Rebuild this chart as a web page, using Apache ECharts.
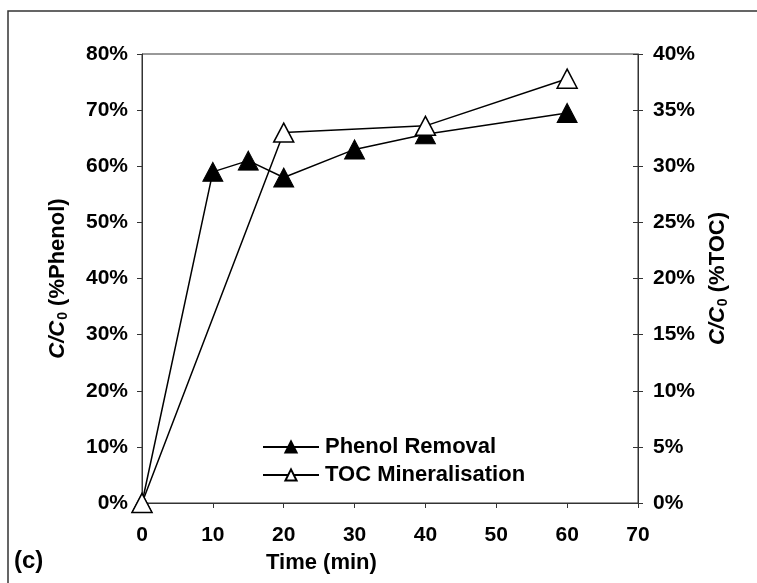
<!DOCTYPE html>
<html>
<head>
<meta charset="utf-8">
<script src="https://cdn.jsdelivr.net/npm/echarts@6/dist/echarts.min.js"></script>
<style>
  html, body { margin: 0; padding: 0; background: #fff; }
  #chart { width: 757px; height: 583px; }
</style>
</head>
<body>
<div id="chart"></div>
<script>
// Sampling times (min)
const times = [0, 10, 15, 20, 30, 40, 60];
const tocTimes = [0, 20, 40, 60];
// Phenol removal, % (left axis)
const phenolRemoval = [0, 59, 61, 58, 63, 65.7, 69.5];
// TOC mineralisation, % (right axis)
const tocMineralisation = [0, 33, 33.6, 37.8];

const FONT = '"Liberation Sans", Arial, sans-serif';
const AXIS_COLOR = '#333';

const chart = echarts.init(document.getElementById('chart'), null, { renderer: 'canvas' });

const labelStyle = { fontFamily: FONT, fontWeight: 'bold', fontSize: 21, color: '#000' };

function pairs(xs, ys) { return xs.map((x, i) => [x, ys[i]]); }

function axisNameRich() {
  return {
    c: { fontFamily: FONT, fontWeight: 'bold', fontStyle: 'italic', fontSize: 22, color: '#000' },
    s: { fontFamily: FONT, fontWeight: 'bold', fontSize: 14, color: '#000', padding: [10, 0, 0, 1] },
    n: { fontFamily: FONT, fontWeight: 'bold', fontSize: 22, color: '#000' }
  };
}

chart.setOption({
  backgroundColor: '#fff',
  animation: false,
  grid: {
    left: 142, right: 119, top: 54, bottom: 80,
    show: true, borderColor: AXIS_COLOR, borderWidth: 1, backgroundColor: 'transparent'
  },
  xAxis: {
    type: 'value', min: 0, max: 70, interval: 10,
    axisLine: { show: true, onZero: false, lineStyle: { color: AXIS_COLOR, width: 1 } },
    axisTick: { show: true, inside: false, length: 5, lineStyle: { color: AXIS_COLOR } },
    axisLabel: Object.assign({ margin: 22 }, labelStyle),
    splitLine: { show: false }
  },
  yAxis: [
    {
      type: 'value', position: 'left', min: 0, max: 80, interval: 10,
      axisLine: { show: true, lineStyle: { color: AXIS_COLOR, width: 1 } },
      axisTick: { show: true, inside: false, length: 5, lineStyle: { color: AXIS_COLOR } },
      axisLabel: Object.assign({ margin: 14, formatter: '{value}%' }, labelStyle),
      splitLine: { show: false },
      name: '{c|C/C}{s|0}{n| (%Phenol)}',
      nameLocation: 'middle', nameRotate: 90, nameGap: 72,
      nameTextStyle: { rich: axisNameRich() }
    },
    {
      type: 'value', position: 'right', min: 0, max: 40, interval: 5,
      axisLine: { show: true, lineStyle: { color: AXIS_COLOR, width: 1 } },
      axisTick: { show: true, inside: false, length: 5, lineStyle: { color: AXIS_COLOR } },
      axisLabel: Object.assign({ margin: 15, formatter: '{value}%' }, labelStyle),
      splitLine: { show: false },
      name: '{c|C/C}{s|0}{n| (%TOC)}',
      nameLocation: 'middle', nameRotate: 90, nameGap: 68,
      nameTextStyle: { rich: axisNameRich() }
    },
    {
      // inner half of the crossing ticks on the right axis
      type: 'value', position: 'right', min: 0, max: 40, interval: 5,
      axisLine: { show: false },
      axisTick: { show: true, inside: true, length: 5, lineStyle: { color: AXIS_COLOR } },
      axisLabel: { show: false },
      splitLine: { show: false }
    }
  ],
  legend: {
    left: 257, top: 431, orient: 'vertical',
    itemWidth: 56, itemHeight: 14, itemGap: 6,
    textStyle: { fontFamily: FONT, fontWeight: 'bold', fontSize: 22, color: '#000', padding: [0, 0, 0, 1] },
    data: ['Phenol Removal', 'TOC Mineralisation']
  },
  series: [
    {
      name: 'Phenol Removal', type: 'line', yAxisIndex: 0,
      data: pairs(times, phenolRemoval),
      symbol: 'triangle', symbolSize: [20, 19],
      lineStyle: { color: '#000', width: 1.5 },
      itemStyle: { color: '#000', borderColor: '#000', borderWidth: 1 }
    },
    {
      name: 'TOC Mineralisation', type: 'line', yAxisIndex: 1,
      data: pairs(tocTimes, tocMineralisation),
      symbol: 'triangle', symbolSize: [20, 19],
      lineStyle: { color: '#000', width: 1.5 },
      itemStyle: { color: '#fff', borderColor: '#000', borderWidth: 1.5 }
    }
  ],
  graphic: [
    {
      type: 'polyline', silent: true,
      shape: { points: [[8, 583], [8, 11], [757, 11]] },
      style: { stroke: '#333', lineWidth: 1.5, fill: null }
    },
    {
      type: 'text', left: 266, top: 552,
      style: { text: 'Time (min)', font: 'bold 22px ' + FONT, fill: '#000' }
    },
    {
      type: 'text', left: 14, top: 549,
      style: { text: '(c)', font: 'bold 24px ' + FONT, fill: '#000' }
    }
  ]
});
</script>
</body>
</html>
